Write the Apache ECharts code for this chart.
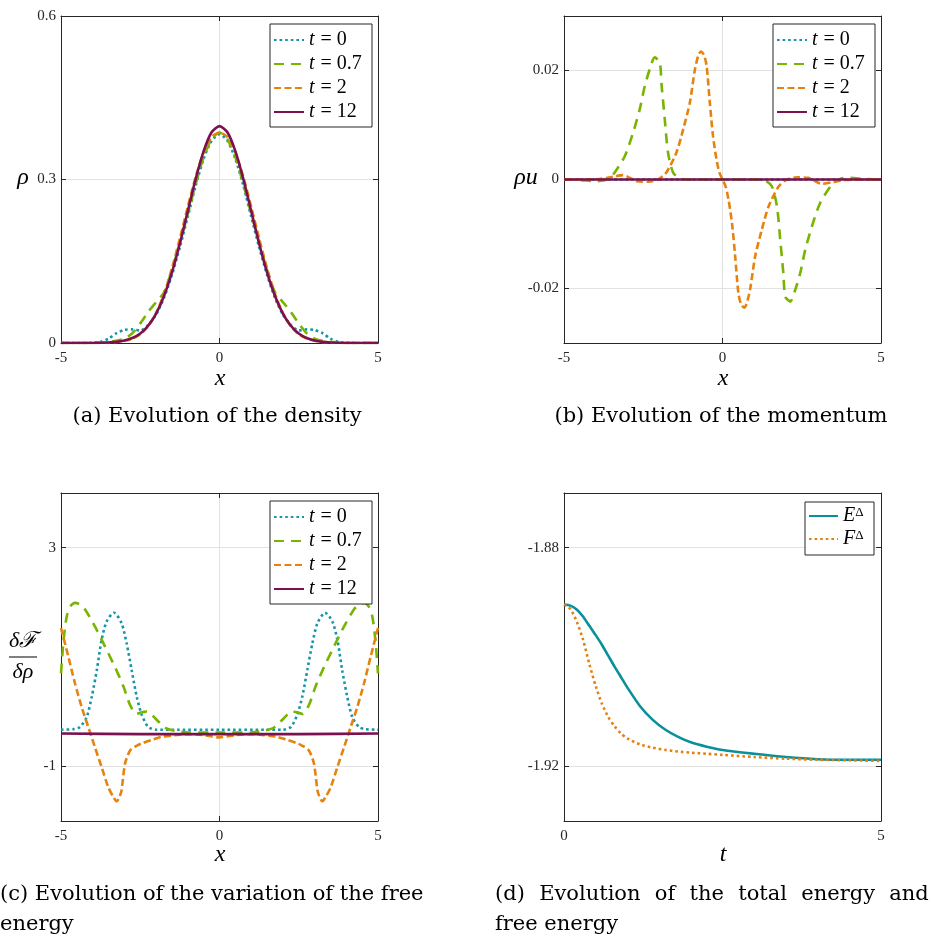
<!DOCTYPE html>
<html><head><meta charset="utf-8">
<script src="https://cdn.jsdelivr.net/npm/echarts@6.0.0/dist/echarts.min.js"></script>
<style>html,body{margin:0;padding:0;background:#fff}#c{width:931px;height:937px}</style>
</head><body><div id="c"></div><script>
// ---------- (a) density ----------
const densityX = [-5,-4.75,-4.5,-4.25,-4,-3.75,-3.5,-3.25,-3,-2.75,-2.5,-2.25,-2,-1.75,-1.5,-1.25,-1,-0.75,-0.5,-0.25,0,
  0.25,0.5,0.75,1,1.25,1.5,1.75,2,2.25,2.5,2.75,3,3.25,3.5,3.75,4,4.25,4.5,4.75,5];
const rhoT0 = [0,0,0,0,0.0005,0.002,0.008,0.018,0.024,0.025,0.023,0.033,0.052,0.083,0.125,0.176,0.232,0.289,0.338,0.371,0.383,
  0.371,0.338,0.289,0.232,0.176,0.125,0.083,0.052,0.033,0.023,0.025,0.024,0.018,0.008,0.002,0.0005,0,0,0,0];
const rhoT07 = [0,0,0,0,0.0003,0.001,0.002,0.004,0.008,0.018,0.036,0.057,0.075,0.093,0.134,0.184,0.237,0.292,0.341,0.374,0.386,
  0.374,0.341,0.292,0.237,0.184,0.134,0.093,0.075,0.057,0.036,0.018,0.008,0.004,0.002,0.001,0.0003,0,0,0,0];
const rhoT2 = [0,0,0,0,0,0,0.001,0.002,0.004,0.008,0.016,0.031,0.055,0.090,0.137,0.192,0.250,0.305,0.350,0.378,0.386,
  0.378,0.350,0.305,0.250,0.192,0.137,0.090,0.055,0.031,0.016,0.008,0.004,0.002,0.001,0,0,0,0,0,0];
const rhoT12 = [0,0,0,0.0001,0.0001,0.0004,0.0009,0.002,0.0044,0.0091,0.0175,0.0317,0.054,0.0863,0.1295,0.1826,0.242,0.3011,0.3521,0.3867,0.398,
  0.3867,0.3521,0.3011,0.242,0.1826,0.1295,0.0863,0.054,0.0317,0.0175,0.0091,0.0044,0.002,0.0009,0.0004,0.0001,0.0001,0,0,0];

// ---------- (b) momentum ----------
const momFlatX = [-5, 0, 5];
const momT0 = [0, 0, 0];
const momT12 = [0, 0, 0];
const momT07X = [-5,-4.5,-4,-3.75,-3.56,-3.4,-3.08,-2.82,-2.61,-2.45,-2.28,-2.14,-1.98,-1.92,-1.82,-1.72,-1.56,-1.35,-1,0,
  1,1.35,1.56,1.72,1.82,1.92,1.98,2.14,2.28,2.45,2.61,2.82,3.08,3.4,3.56,3.75,4,4.5,5];
const momT07 = [0,-0.0001,-0.0003,-0.0002,0.0003,0.0013,0.0043,0.0086,0.0129,0.0172,0.0205,0.0224,0.0215,0.0172,0.011,0.005,0.0013,0.0002,0,0,
  0,-0.0002,-0.0013,-0.005,-0.011,-0.0172,-0.0215,-0.0224,-0.0205,-0.0172,-0.0129,-0.0086,-0.0043,-0.0013,-0.0003,0.0002,0.0003,0.0001,0];
const momT2X = [-5,-4.5,-3.88,-3.45,-3.14,-2.7,-2.35,-2.03,-1.77,-1.45,-1.24,-1.03,-0.87,-0.76,-0.68,-0.58,-0.5,-0.4,-0.3,-0.19,-0.1,0,
  0.1,0.19,0.3,0.4,0.5,0.58,0.68,0.76,0.87,1.03,1.24,1.45,1.77,2.03,2.35,2.7,3.14,3.45,3.88,4.5,5];
const momT2 = [0,0,0.0001,0.0005,0.0008,-0.0003,-0.0004,0,0.0013,0.005,0.0092,0.0141,0.0202,0.0228,0.0235,0.0228,0.0208,0.0141,0.008,0.0037,0.0013,0,
  -0.0013,-0.0037,-0.008,-0.0141,-0.0208,-0.0228,-0.0235,-0.0228,-0.0202,-0.0141,-0.0092,-0.005,-0.0013,0,0.0004,0.0003,-0.0008,-0.0005,-0.0001,0,0];

// ---------- (c) variation of the free energy ----------
const varT0X = [-5,-4.6,-4.4,-4.19,-4.03,-3.87,-3.72,-3.56,-3.33,-3.09,-2.93,-2.77,-2.61,-2.45,-2.25,-2.0,-1.5,0,
  1.5,2.0,2.25,2.45,2.61,2.77,2.93,3.09,3.33,3.56,3.72,3.87,4.03,4.19,4.4,4.6,5];
const varT0 = [-0.33,-0.32,-0.28,-0.10,0.27,0.76,1.31,1.65,1.81,1.62,1.25,0.76,0.27,-0.06,-0.28,-0.33,-0.33,-0.33,
  -0.33,-0.33,-0.28,-0.06,0.27,0.76,1.25,1.62,1.81,1.65,1.31,0.76,0.27,-0.10,-0.28,-0.32,-0.33];
const varT07X = [-5,-4.92,-4.82,-4.7,-4.56,-4.4,-4.24,-3.93,-3.61,-3.3,-3.03,-2.82,-2.61,-2.45,-2.3,-2.15,-2.03,-1.72,-1.4,-1.0,0,
  1.0,1.4,1.72,2.03,2.15,2.3,2.45,2.61,2.82,3.03,3.3,3.61,3.93,4.24,4.4,4.56,4.7,4.82,4.92,5];
const varT07 = [0.7,1.3,1.74,1.93,1.99,1.96,1.87,1.56,1.19,0.82,0.46,0.12,-0.04,-0.01,0.0,-0.05,-0.12,-0.29,-0.35,-0.38,-0.38,
  -0.38,-0.35,-0.29,-0.12,-0.05,0.0,-0.01,-0.04,0.12,0.46,0.82,1.19,1.56,1.87,1.96,1.99,1.93,1.74,1.3,0.7];
const varT2X = [-5,-4.77,-4.56,-4.35,-4.14,-3.93,-3.72,-3.51,-3.35,-3.24,-3.15,-3.09,-2.98,-2.82,-2.6,-2.45,-2.1,-1.82,-1.4,-1.0,-0.5,0,
  0.5,1.0,1.4,1.82,2.1,2.45,2.6,2.82,2.98,3.09,3.15,3.24,3.35,3.51,3.72,3.93,4.14,4.35,4.56,4.77,5];
const varT2 = [1.53,1.01,0.52,0.09,-0.28,-0.65,-1.01,-1.38,-1.56,-1.64,-1.55,-1.44,-0.95,-0.71,-0.62,-0.58,-0.51,-0.46,-0.43,-0.41,-0.43,-0.47,
  -0.43,-0.41,-0.43,-0.46,-0.51,-0.58,-0.62,-0.71,-0.95,-1.44,-1.55,-1.64,-1.56,-1.38,-1.01,-0.65,-0.28,0.09,0.52,1.01,1.53];
const varT12X = [-5,-2.5,0,2.5,5];
const varT12 = [-0.40,-0.41,-0.41,-0.41,-0.40];

// ---------- (d) energies ----------
const timeT = [0,0.1,0.2,0.3,0.4,0.5,0.6,0.7,0.8,0.9,1.0,1.2,1.4,1.6,1.8,2.0,2.25,2.5,3,3.5,4,4.5,5];
const energyE = [-1.8904,-1.8906,-1.8913,-1.8926,-1.8943,-1.8960,-1.8978,-1.8998,-1.9018,-1.9037,-1.9056,-1.9090,-1.9115,-1.9133,-1.9146,-1.9156,-1.9164,-1.9170,-1.9177,-1.9183,-1.9187,-1.9188,-1.9188];
const energyF = [-1.8904,-1.8912,-1.8935,-1.8968,-1.9013,-1.9053,-1.9086,-1.9110,-1.9127,-1.9140,-1.9149,-1.9160,-1.9166,-1.9170,-1.9173,-1.9175,-1.9177,-1.9179,-1.9183,-1.9186,-1.9188,-1.9189,-1.9190];

// ---------- ticks ----------
const xTicksX = [-5, 0, 5];
const yTicksA = [0, 0.3, 0.6];
const yTicksB = [-0.02, 0, 0.02];
const yTicksC = [-1, 3];
const yTicksD = [-1.92, -1.88];
const xTicksD = [0, 5];
const timeLabels = ['t = 0', 't = 0.7', 't = 2', 't = 12'];
const energyLabels = ['EΔ', 'FΔ'];

// ---------- styles ----------
const C = {t0:'#1595a8', t07:'#78b400', t2:'#e6820e', t12:'#7c1150', E:'#0a9099', F:'#e3800f'};
const DASH = {t0:[2.6,3], t07:[10,7], t2:[7,3.5], t12:'solid', E:'solid', F:[2.6,3]};
const AX = '#262626';
const LABEL = {fontFamily:'Liberation Serif', fontSize:15, color:'#262626'};
const grids = [
  {left:61, top:16, width:317, height:327},
  {left:564, top:16, width:317, height:327},
  {left:61, top:493, width:317, height:328},
  {left:564, top:493, width:317, height:328}
];

function pairs(xs, ys){ return xs.map((x,i)=>[x, ys[i]]); }

function xAxes(gi, min, max, ticks){
  const base = {type:'value', gridIndex:gi, min:min, max:max,
    axisLine:{show:true, onZero:false, lineStyle:{color:AX, width:1}},
    axisTick:{show:true, inside:true, length:5, customValues:ticks, lineStyle:{color:AX}},
    axisLabel:Object.assign({show:true, margin:8, customValues:ticks}, LABEL),
    splitLine:{show:true, lineStyle:{color:'#e2e2e2', width:1}}};
  const top = JSON.parse(JSON.stringify(base));
  top.position = 'top'; top.axisLabel.show = false; top.splitLine.show = false;
  base.position = 'bottom';
  return [base, top];
}
function yAxes(gi, min, max, ticks){
  const base = {type:'value', gridIndex:gi, min:min, max:max,
    axisLine:{show:true, onZero:false, lineStyle:{color:AX, width:1}},
    axisTick:{show:true, inside:true, length:5, customValues:ticks, lineStyle:{color:AX}},
    axisLabel:Object.assign({show:true, margin:5, customValues:ticks}, LABEL),
    splitLine:{show:true, lineStyle:{color:'#e2e2e2', width:1}}};
  const right = JSON.parse(JSON.stringify(base));
  right.position = 'right'; right.axisLabel.show = false; right.splitLine.show = false;
  base.position = 'left';
  return [base, right];
}
function line(name, data, gi, key, z){
  return {type:'line', name:name, data:data, xAxisIndex:2*gi, yAxisIndex:2*gi,
    symbol:'none', showSymbol:false, smooth:0.25, animation:false, z:z||2,
    lineStyle:{color:C[key], width:2.6, type:DASH[key], cap:'butt'},
    itemStyle:{color:C[key]}};
}
const legendRich = {
  i:{fontFamily:'Liberation Serif', fontStyle:'italic', fontSize:20, lineHeight:20, color:'#000'},
  e:{fontFamily:'Liberation Serif', fontSize:20, lineHeight:20, color:'#000', padding:[0,5,0,6]},
  r:{fontFamily:'Liberation Serif', fontSize:20, lineHeight:20, color:'#000'},
  s:{fontFamily:'Liberation Serif', fontSize:13, lineHeight:20, verticalAlign:'top', color:'#000'}
};
const hiddenSymbol = {opacity:0, borderWidth:0};
function tLegend(left, top){
  return {show:true, orient:'vertical', left:left, top:top, data:timeLabels,
    backgroundColor:'#fff', borderColor:AX, borderWidth:1, borderRadius:0,
    padding:[6,6,5,3], itemWidth:30, itemHeight:12, itemGap:4,
    selectedMode:false, itemStyle:hiddenSymbol,
    textStyle:{width:57, lineHeight:20, fontSize:20, fontFamily:'Liberation Serif', rich:legendRich},
    formatter:function(n){ return '{i|t}{e|=}{r|' + n.slice(4) + '}'; }};
}

const series = [
  line(timeLabels[0], pairs(densityX, rhoT0), 0, 't0'),
  line(timeLabels[1], pairs(densityX, rhoT07), 0, 't07'),
  line(timeLabels[2], pairs(densityX, rhoT2), 0, 't2'),
  line(timeLabels[3], pairs(densityX, rhoT12), 0, 't12'),
  line(timeLabels[0], pairs(momFlatX, momT0), 1, 't0'),
  line(timeLabels[1], pairs(momT07X, momT07), 1, 't07'),
  line(timeLabels[2], pairs(momT2X, momT2), 1, 't2'),
  line(timeLabels[3], pairs(momFlatX, momT12), 1, 't12'),
  line(timeLabels[0], pairs(varT0X, varT0), 2, 't0'),
  line(timeLabels[1], pairs(varT07X, varT07), 2, 't07'),
  line(timeLabels[2], pairs(varT2X, varT2), 2, 't2'),
  line(timeLabels[3], pairs(varT12X, varT12), 2, 't12'),
  line(energyLabels[0], pairs(timeT, energyE), 3, 'E'),
  line(energyLabels[1], pairs(timeT, energyF), 3, 'F')
];

const xAxis = [].concat(xAxes(0,-5,5,xTicksX), xAxes(1,-5,5,xTicksX), xAxes(2,-5,5,xTicksX), xAxes(3,0,5,xTicksD));
const yAxis = [].concat(yAxes(0,0,0.6,yTicksA), yAxes(1,-0.03,0.03,yTicksB), yAxes(2,-2,4,yTicksC), yAxes(3,-1.93,-1.87,yTicksD));

const SERIF = 'Liberation Serif';
function txt(x, y, text, size, italic, family, align){
  return {type:'text', x:x, y:y, silent:true, style:{text:text, fill:'#000',
    font:(italic?'italic ':'') + size + 'px "' + (family||SERIF) + '"',
    align:align||'center', verticalAlign:'middle'}};
}
const CAP = 'DejaVu Serif';
const graphic = [
  txt(220, 379, 'x', 24, true), txt(723, 379, 'x', 24, true),
  txt(220, 855, 'x', 24, true), txt(723, 855, 't', 24, true),
  txt(23, 178, 'ρ', 24, true), txt(526, 178, 'ρu', 24, true),
  txt(23, 641, 'δℱ', 22, true), txt(23, 672, 'δρ', 22, true),
  {type:'line', silent:true, shape:{x1:9, y1:657, x2:37, y2:657}, style:{stroke:'#000', lineWidth:1}},
  txt(217, 417, '(a) Evolution of the density', 21, false, CAP),
  txt(721, 417, '(b) Evolution of the momentum', 21, false, CAP),
  txt(0, 895, '(c) Evolution of the variation of the free', 21, false, CAP, 'left'),
  txt(0, 925, 'energy', 21, false, CAP, 'left'),
  {type:'text', x:495, y:895, silent:true, style:{
    text:'{w|(d)}{s| }{w|Evolution}{s| }{w|of}{s| }{w|the}{s| }{w|total}{s| }{w|energy}{s| }{w|and}',
    rich:{w:{fontFamily:CAP, fontSize:21, fill:'#000'}, s:{fontFamily:CAP, fontSize:21, width:14.3}},
    align:'left', verticalAlign:'middle'}},
  txt(495, 925, 'free energy', 21, false, CAP, 'left')
];

const chart = echarts.init(document.getElementById('c'), null, {renderer:'canvas'});
chart.setOption({
  backgroundColor:'#fff',
  animation:false,
  grid:grids,
  xAxis:xAxis,
  yAxis:yAxis,
  legend:[
    tLegend(270, 24), tLegend(773, 24), tLegend(270, 501),
    {show:true, orient:'vertical', left:805, top:502, data:energyLabels,
     backgroundColor:'#fff', borderColor:AX, borderWidth:1, borderRadius:0,
     padding:[4,4,6,3], itemWidth:29, itemHeight:12, itemGap:3, selectedMode:false,
     itemStyle:hiddenSymbol,
     textStyle:{width:27, lineHeight:20, fontSize:20, fontFamily:'Liberation Serif', rich:legendRich},
     formatter:function(n){ return '{i|' + n.charAt(0) + '}{s|Δ}'; }}
  ],
  graphic:graphic,
  series:series
});
</script></body></html>
